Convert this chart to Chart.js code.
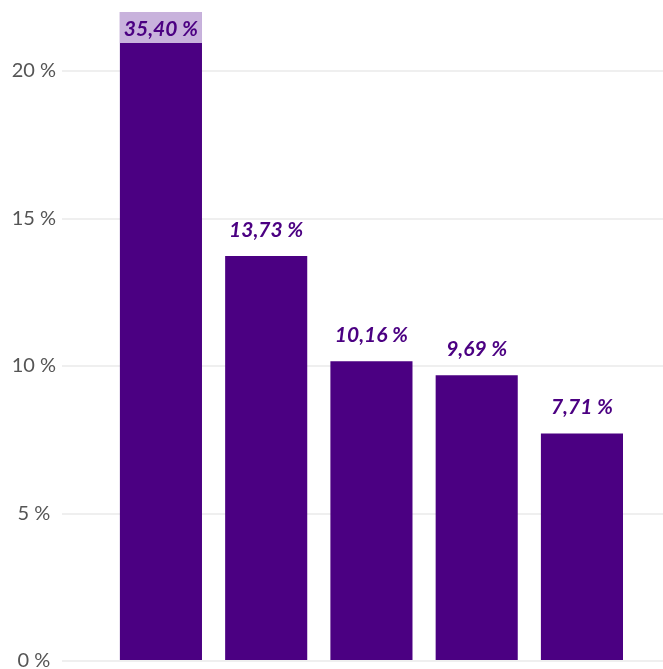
<!DOCTYPE html>
<html>
<head>
<meta charset="utf-8">
<script src="https://cdn.jsdelivr.net/npm/chart.js@4"></script>
<style>
  html, body { margin: 0; padding: 0; background: #fff; }
  #wrap { width: 663px; height: 669px; }
</style>
</head>
<body>
<div id="wrap"><canvas id="chart"></canvas></div>
<script>
// Data
const categories = [1, 2, 3, 4, 5];
const valores = [35.40, 13.73, 10.16, 9.69, 7.71];
const yTicks = [0, 5, 10, 15, 20];

const indigo = '#4b0082';
const yMax = 22;

const fmt = v => v.toFixed(2).replace('.', ',') + ' %';

// etiquetas sobre las barras
const etiquetas = {
    id: 'etiquetas',
    afterDatasetsDraw(chart) {
        const ctx = chart.ctx;
        const area = chart.chartArea;
        const meta = chart.getDatasetMeta(0);
        ctx.save();
        ctx.font = 'italic bold 21px Lato';
        ctx.textAlign = 'center';
        ctx.textBaseline = 'middle';
        meta.data.forEach((bar, i) => {
            const v = valores[i];
            const left = bar.x - bar.width / 2;
            if (v > yMax) {
                // barra recortada: caja clara arriba
                ctx.fillStyle = '#c8b2dc';
                ctx.fillRect(left, area.top, bar.width, 31);
                ctx.fillStyle = indigo;
                ctx.fillText(fmt(v), bar.x, area.top + 17);
            } else {
                ctx.fillStyle = indigo;
                ctx.fillText(fmt(v), bar.x, bar.y - 26);
            }
        });
        ctx.restore();
    }
};

new Chart(document.getElementById('chart').getContext('2d'), {
    type: 'bar',
    data: {
        datasets: [{
            data: categories.map((c, i) => ({ x: c, y: valores[i] })),
            backgroundColor: indigo,
            borderWidth: 0,
            categoryPercentage: 1,
            barPercentage: 0.78
        }]
    },
    options: {
        responsive: true,
        maintainAspectRatio: false,
        animation: false,
        layout: { padding: { top: 12, bottom: 8, right: 0, left: 0 } },
        plugins: {
            legend: { display: false },
            tooltip: { enabled: false }
        },
        scales: {
            x: {
                type: 'linear',
                display: false,
                offset: false,
                min: 0.06,
                max: 5.77,
                afterBuildTicks(scale) { scale.ticks = categories.map(v => ({ value: v })); }
            },
            y: {
                min: 0,
                max: yMax,
                afterFit(scale) {
                    scale.width = 62;
                    scale.paddingTop = 0;
                    scale.paddingBottom = 0;
                },
                afterBuildTicks(scale) { scale.ticks = yTicks.map(v => ({ value: v })); },
                border: { display: false },
                grid: { color: '#efefef', lineWidth: 2, drawTicks: false },
                ticks: {
                    crossAlign: 'center',
                    padding: 6,
                    color: '#555',
                    font: { family: 'Lato', size: 20 },
                    callback: v => v + ' %'
                }
            }
        }
    },
    plugins: [etiquetas]
});
</script>
</body>
</html>
